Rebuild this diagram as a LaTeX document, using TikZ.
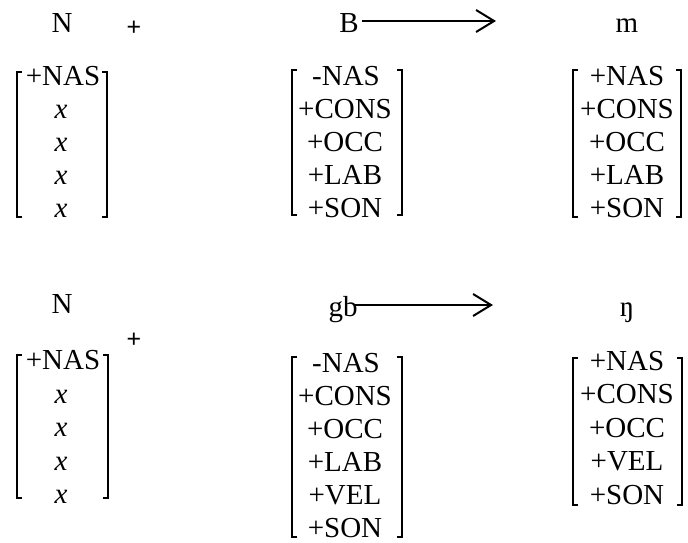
\documentclass[tikz,border=0pt]{standalone}
\usepackage{fontspec}
\setmainfont{Liberation Serif}
\newfontfamily\plusfont{Liberation Sans}
\usetikzlibrary{arrows.meta}
\newcommand\featbrack[4]{% left x, right x, top y, bottom y
  \draw[brk] (#1+5,#3) -- (#1,#3) -- (#1,#4) -- (#1+5,#4);
  \draw[brk] (#2-5,#3) -- (#2,#3) -- (#2,#4) -- (#2-5,#4);
}
\begin{document}
\begin{tikzpicture}[x=1pt,y=-1pt,
  feat/.style={font=\fontsize{29}{33}\selectfont, anchor=base, inner sep=0pt},
  ifeat/.style={feat, font=\fontsize{29}{33}\selectfont\itshape},
  plus/.style={font=\plusfont\fontsize{25}{28}\selectfont, inner sep=0pt},
  brk/.style={line width=1.8pt},
  rule/.style={line width=2pt, -{Straight Barb[length=18pt,width=22pt,line width=2pt]}}]
\useasboundingbox (0,0) rectangle (688,542);

% ---------- top rule ----------
\node[feat] (N1) at (62,32) {N};
\node[plus] (p1) at (134,28) {+};
\node[feat] (B1) at (349,32) {B};
\node[feat] (m1) at (627,32) {m};
\coordinate (a1s) at (362,21);
\coordinate (a1e) at (496,21);
\draw[rule] (a1s) -- (a1e);

% left matrix 1
\node[feat] (l1a) at (63,85) {+NAS};
\node[ifeat] (l1b) at (61,118) {x};
\node[ifeat] (l1c) at (61,151) {x};
\node[ifeat] (l1d) at (61,184) {x};
\node[ifeat] (l1e) at (61,217) {x};
\featbrack{17}{107}{72}{217}

% middle matrix 1
\node[feat] (c1a) at (346,85) {-NAS};
\node[feat] (c1b) at (345,118) {+CONS};
\node[feat] (c1c) at (345,151) {+OCC};
\node[feat] (c1d) at (345,184) {+LAB};
\node[feat] (c1e) at (345,217) {+SON};
\featbrack{292}{402}{70}{215}

% right matrix 1
\node[feat] (r1a) at (627,85) {+NAS};
\node[feat] (r1b) at (627,118) {+CONS};
\node[feat] (r1c) at (627,151) {+OCC};
\node[feat] (r1d) at (627,184) {+LAB};
\node[feat] (r1e) at (627,217) {+SON};
\featbrack{573}{681}{70}{217}

% ---------- bottom rule ----------
\node[feat] (N2) at (62,313) {N};
\node[plus] (p2) at (134,340) {+};
\node[feat] (gb) at (343,316) {gb};
\node[feat] (ng) at (627,316) {ŋ};
\coordinate (a2s) at (355,305);
\coordinate (a2e) at (493,305);
\draw[rule] (a2s) -- (a2e);

% left matrix 2
\node[feat] (l2a) at (63,369) {+NAS};
\node[ifeat] (l2b) at (61,403) {x};
\node[ifeat] (l2c) at (61,436) {x};
\node[ifeat] (l2d) at (61,470) {x};
\node[ifeat] (l2e) at (61,503) {x};
\featbrack{17}{108}{355}{498}

% middle matrix 2
\node[feat] (c2a) at (346,372) {-NAS};
\node[feat] (c2b) at (345,405) {+CONS};
\node[feat] (c2c) at (345,438) {+OCC};
\node[feat] (c2d) at (345,471) {+LAB};
\node[feat] (c2e) at (345,504) {+VEL};
\node[feat] (c2f) at (345,537) {+SON};
\featbrack{292}{402}{357}{537}

% right matrix 2
\node[feat] (r2a) at (627,370) {+NAS};
\node[feat] (r2b) at (627,403) {+CONS};
\node[feat] (r2c) at (627,437) {+OCC};
\node[feat] (r2d) at (627,470) {+VEL};
\node[feat] (r2e) at (627,504) {+SON};
\featbrack{573}{682}{358}{505}
\end{tikzpicture}
\end{document}
